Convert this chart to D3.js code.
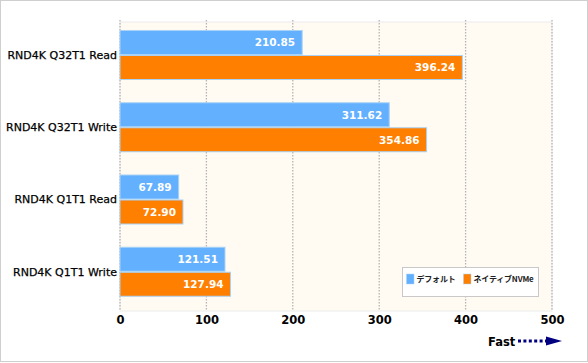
<!DOCTYPE html>
<html>
<head>
<meta charset="utf-8">
<script src="https://cdn.jsdelivr.net/npm/d3@7"></script>
<style>
  body { margin: 0; background: #fff; }
  svg { display: block; }
</style>
</head>
<body>
<div id="chart"></div>
<script>
const categories = ['RND4K Q32T1 Read', 'RND4K Q32T1 Write', 'RND4K Q1T1 Read', 'RND4K Q1T1 Write'];
const defaultValues = [210.85, 311.62, 67.89, 121.51];
const nvmeValues = [396.24, 354.86, 72.90, 127.94];
const seriesNames = ['デフォルト', 'ネイティブNVMe'];
const tickValues = [0, 100, 200, 300, 400, 500];

const width = 588;
const height = 363;
const plot = { left: 120, right: 552, top: 22, bottom: 311 };
const colors = ['#63b0ff', '#ff7f00'];

const svg = d3.select('#chart')
    .append('svg')
    .attr('width', width)
    .attr('height', height)
    .style('font-family', '"DejaVu Sans", Verdana, sans-serif');

// outer frame
svg.append('rect')
    .attr('x', 0.5).attr('y', 0.5)
    .attr('width', 587).attr('height', 361)
    .attr('fill', '#fff')
    .attr('stroke', '#cfcfcf');

const x = d3.scaleLinear()
    .domain([0, 500])
    .range([plot.left, plot.right]);

const y = d3.scaleBand()
    .domain(categories)
    .range([plot.top, plot.bottom]);

const inner = d3.scaleBand()
    .domain(seriesNames)
    .range([8, 58]);

// plot background
svg.append('rect')
    .attr('x', plot.left).attr('y', plot.top)
    .attr('width', plot.right - plot.left)
    .attr('height', plot.bottom - plot.top)
    .attr('fill', '#fffbf2')
    .attr('stroke', '#ececec');

// gridlines
svg.append('g')
    .selectAll('line')
    .data(tickValues)
    .enter()
    .append('line')
    .attr('x1', d => x(d)).attr('x2', d => x(d))
    .attr('y1', plot.top - 2).attr('y2', plot.bottom)
    .attr('stroke', '#b4b4b4')
    .attr('stroke-width', 1.3)
    .attr('stroke-dasharray', '1.5,1.5');

const rows = categories.map((c, i) => ({
    category: c,
    values: [defaultValues[i], nvmeValues[i]]
}));

const groups = svg.selectAll('.group')
    .data(rows)
    .enter()
    .append('g')
    .attr('class', 'group')
    .attr('transform', d => `translate(0, ${y(d.category)})`);

const bars = groups.selectAll('.bar')
    .data(d => d.values.map((v, k) => ({ value: v, series: seriesNames[k], k })))
    .enter()
    .append('g')
    .attr('class', 'bar');

bars.append('rect')
    .attr('x', x(0))
    .attr('y', d => inner(d.series) + 0.5)
    .attr('width', d => x(d.value) - x(0))
    .attr('height', inner.bandwidth() - 1)
    .attr('fill', d => colors[d.k])
    .attr('stroke', '#a9d2f5')
    .attr('stroke-width', 1);

bars.append('text')
    .attr('x', d => x(d.value) - 7)
    .attr('y', d => inner(d.series) + inner.bandwidth() / 2)
    .attr('dy', '0.36em')
    .attr('text-anchor', 'end')
    .attr('fill', '#fff')
    .style('font-size', '10.5px')
    .style('font-weight', 'bold')
    .text(d => d.value.toFixed(2));

// category labels
svg.append('g')
    .selectAll('text')
    .data(categories)
    .enter()
    .append('text')
    .attr('x', plot.left - 3)
    .attr('y', d => y(d) + 33)
    .attr('dy', '0.36em')
    .attr('text-anchor', 'end')
    .attr('fill', '#000')
    .attr('stroke', '#000')
    .attr('stroke-width', 0.25)
    .style('font-size', '11px')
    .text(d => d);

// x axis
const axis = svg.append('g')
    .attr('transform', `translate(0, ${plot.bottom})`)
    .call(d3.axisBottom(x).tickValues(tickValues).tickSize(0).tickPadding(5));
axis.select('.domain').remove();
axis.selectAll('text')
    .attr('fill', '#000')
    .style('font-size', '11.5px')
    .style('font-weight', 'bold')
    .style('font-family', '"DejaVu Sans", Verdana, sans-serif');

// legend
const legend = svg.append('g').attr('transform', 'translate(402.5, 267.5)');
legend.append('rect')
    .attr('width', 136).attr('height', 29)
    .attr('fill', '#fff')
    .attr('stroke', '#c8c8c8');
const legendX = [4, 61];
const items = legend.selectAll('.item')
    .data(seriesNames)
    .enter()
    .append('g')
    .attr('transform', (d, i) => `translate(${legendX[i]}, 6.5)`);
items.append('rect')
    .attr('width', 7.5).attr('height', 10)
    .attr('fill', (d, i) => colors[i])
    .attr('stroke', '#a9d2f5')
    .attr('stroke-width', 0.5);
items.append('text')
    .attr('x', 10)
    .attr('y', 5)
    .attr('dy', '0.36em')
    .attr('fill', '#222')
    .style('font-size', '8px')
    .style('letter-spacing', '-0.2px')
    .style('font-family', '"Noto Sans CJK JP", sans-serif')
    .style('font-weight', 'bold')
    .text(d => d);

// "Fast" arrow
const fast = svg.append('g');
fast.append('text')
    .attr('x', 488)
    .attr('y', 345.5)
    .attr('fill', '#000')
    .style('font-size', '11.5px')
    .style('font-weight', 'bold')
    .text('Fast');
fast.append('line')
    .attr('x1', 518).attr('x2', 546)
    .attr('y1', 341).attr('y2', 341)
    .attr('stroke', '#000080')
    .attr('stroke-width', 3)
    .attr('stroke-dasharray', '3,2.4');
fast.append('path')
    .attr('d', 'M546,336.5 L562,341 L546,345.5 Z')
    .attr('fill', '#000080');
</script>
</body>
</html>
